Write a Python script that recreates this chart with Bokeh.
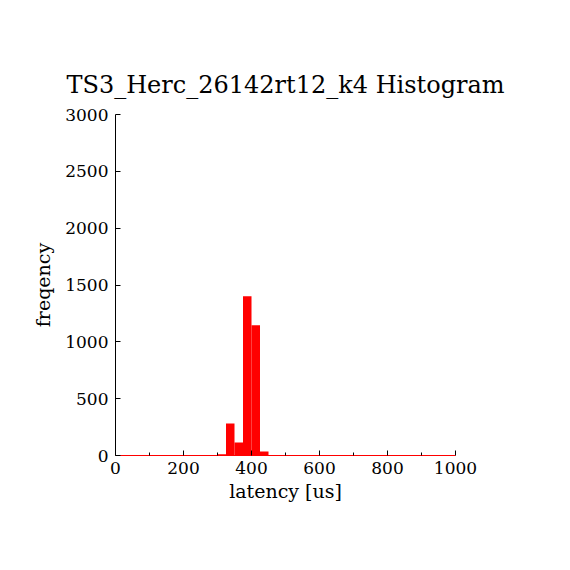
from bokeh.plotting import figure
from bokeh.models import FixedTicker, Range1d
from bokeh.embed import file_html
from bokeh.resources import INLINE

# histogram data (bin width 25 us, 0..1000)
bin_edges = list(range(0, 1001, 25))
counts = [0] * 40
counts_nonzero = {300: 12, 325: 281, 350: 114, 375: 1400, 400: 1145, 425: 35}
for k, v in counts_nonzero.items():
    counts[k // 25] = v

x_ticks = [0, 200, 400, 600, 800, 1000]
x_minor = [100, 300, 500, 700, 900]
y_ticks = [0, 500, 1000, 1500, 2000, 2500, 3000]

title = "TS3_Herc_26142rt12_k4 Histogram"
xlabel = "latency [us]"
ylabel = "freqency"

FONT = "DejaVu Serif"

p = figure(width=562, height=562, output_backend="svg", toolbar_location=None,
           x_range=Range1d(0, 1000), y_range=Range1d(0, 3000),
           min_border_left=115, min_border_right=107,
           min_border_top=114, min_border_bottom=107,
           title=title)

p.title.text_font = FONT
p.title.text_font_size = "24px"
p.title.text_font_style = "normal"
p.title.text_color = "black"
p.title.align = "center"
p.title.standoff = 32

p.quad(left=bin_edges[:-1], right=bin_edges[1:], bottom=0, top=counts,
       fill_color="#ff0000", line_color=None)

p.grid.visible = False
p.outline_line_color = None
p.background_fill_color = "white"
p.border_fill_color = "white"

for ax in (p.xaxis, p.yaxis):
    ax.major_label_text_font = FONT
    ax.major_label_text_font_size = "17px"
    ax.major_label_text_color = "black"
    ax.axis_label_text_font = FONT
    ax.axis_label_text_font_size = "19px"
    ax.axis_label_text_font_style = "normal"
    ax.axis_label_text_color = "black"
    ax.major_tick_out = 0
    ax.major_tick_in = 5
    ax.minor_tick_out = 0
    ax.major_tick_line_color = "black"

p.xaxis.ticker = FixedTicker(ticks=x_ticks, minor_ticks=x_minor)
p.xaxis.minor_tick_in = 3
p.xaxis.minor_tick_line_color = "black"
p.xaxis.axis_line_color = "#ff0000"
p.xaxis.axis_label = xlabel
p.xaxis.major_label_standoff = 6
p.xaxis.axis_label_standoff = 3

p.yaxis.ticker = FixedTicker(ticks=y_ticks, minor_ticks=[])
p.yaxis.minor_tick_line_color = None
p.yaxis.axis_line_color = "black"
p.yaxis.axis_label = ylabel
p.yaxis.major_label_standoff = 7
p.yaxis.axis_label_standoff = 8

open("out.html", "w").write(file_html(p, INLINE))
